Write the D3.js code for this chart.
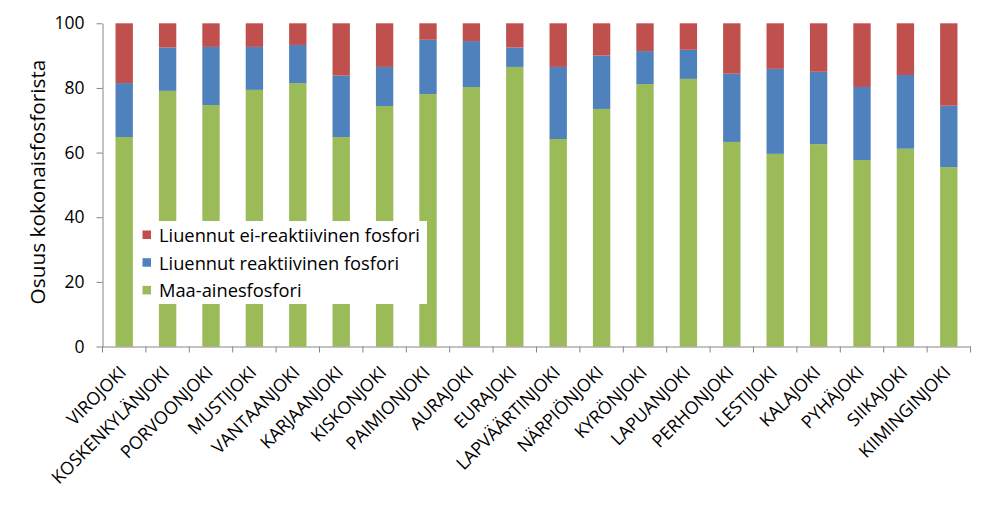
<!DOCTYPE html>
<html>
<head>
<meta charset="utf-8">
<script src="https://cdn.jsdelivr.net/npm/d3@7"></script>
<style>
  body { margin: 0; background: #fff; }
  text { font-family: "Open Sans", sans-serif; fill: #000; }
</style>
</head>
<body>
<div id="chart"></div>
<script>
// joet
const rivers = ["VIROJOKI", "KOSKENKYLÄNJOKI", "PORVOONJOKI", "MUSTIJOKI", "VANTAANJOKI",
  "KARJAANJOKI", "KISKONJOKI", "PAIMIONJOKI", "AURAJOKI", "EURAJOKI", "LAPVÄÄRTINJOKI",
  "NÄRPIÖNJOKI", "KYRÖNJOKI", "LAPUANJOKI", "PERHONJOKI", "LESTIJOKI", "KALAJOKI",
  "PYHÄJOKI", "SIIKAJOKI", "KIIMINGINJOKI"];

// osuudet (%)
const maaAines = [64.8, 79.1, 74.7, 79.4, 81.5, 64.8, 74.4, 78.1, 80.3, 86.5,
  64.2, 73.5, 81.2, 82.8, 63.3, 59.6, 62.6, 57.7, 61.2, 55.5];
const reaktiivinen = [16.7, 13.4, 18.0, 13.3, 11.8, 19.0, 12.1, 16.8, 14.2, 6.0,
  22.3, 16.5, 10.2, 9.0, 21.1, 26.3, 22.4, 22.6, 22.8, 19.0];
const eiReaktiivinen = [18.5, 7.5, 7.3, 7.3, 6.7, 16.2, 13.5, 5.1, 5.5, 7.5,
  13.5, 10.0, 8.6, 8.2, 15.6, 14.1, 15.0, 19.7, 16.0, 25.5];

const yTicks = [0, 20, 40, 60, 80, 100];

const seriesNames = ["Maa-ainesfosfori", "Liuennut reaktiivinen fosfori", "Liuennut ei-reaktiivinen fosfori"];
const colors = ["#9BBB59", "#4F81BD", "#C0504D"];

const W = 1002, H = 506;
const svg = d3.select("#chart").append("svg")
  .attr("width", W)
  .attr("height", H);

const x = d3.scaleBand()
  .domain(rivers)
  .range([102.5, 970.5])
  .padding(0);

const y = d3.scaleLinear()
  .domain([0, 100])
  .range([346.5, 23.3]);

// taulukko pinoamista varten
const table = rivers.map((r, i) => ({
  river: r,
  [seriesNames[0]]: maaAines[i],
  [seriesNames[1]]: reaktiivinen[i],
  [seriesNames[2]]: eiReaktiivinen[i]
}));

const stacked = d3.stack().keys(seriesNames)(table);

const barW = x.bandwidth() * 0.4;

svg.append("g")
  .selectAll("g")
  .data(stacked)
  .join("g")
    .attr("fill", (d, i) => colors[i])
  .selectAll("rect")
  .data(d => d)
  .join("rect")
    .attr("x", d => x(d.data.river) + (x.bandwidth() - barW) / 2)
    .attr("y", d => y(d[1]))
    .attr("width", barW)
    .attr("height", d => y(d[0]) - y(d[1]));

// y-akseli
const yAxis = svg.append("g")
  .attr("transform", `translate(${x.range()[0]},0)`)
  .call(d3.axisLeft(y).tickValues(yTicks).tickSize(6).tickSizeOuter(0).tickPadding(12));
yAxis.select(".domain").attr("stroke", "#868686");
yAxis.selectAll(".tick line").attr("stroke", "#868686");
yAxis.selectAll("text").style("font-size", "17.5px").attr("fill", "#000");

// x-akseli
const xAxis = svg.append("g")
  .attr("transform", `translate(0,${y(0)})`)
  .call(d3.axisBottom(x).tickSize(0).tickSizeOuter(0));
xAxis.select(".domain").attr("stroke", "#868686");
xAxis.selectAll("text")
  .style("font-size", "17.8px")
  .attr("fill", "#000")
  .attr("text-anchor", "end")
  .attr("x", 0)
  .attr("y", 0)
  .attr("dy", null)
  .attr("transform", "translate(3,27) rotate(-45)");

// väliviivat luokkien välissä
const boundaries = rivers.map(r => x(r)).concat([x.range()[1]]);
svg.append("g")
  .selectAll("line")
  .data(boundaries)
  .join("line")
    .attr("x1", d => d)
    .attr("x2", d => d)
    .attr("y1", y(0))
    .attr("y2", y(0) + 6)
    .attr("stroke", "#868686");

// y-akselin otsikko
svg.append("text")
  .attr("transform", `translate(44.5,182) rotate(-90)`)
  .attr("text-anchor", "middle")
  .style("font-size", "20.8px")
  .text("Osuus kokonaisfosforista");

// selite
const legend = svg.append("g");
legend.append("rect")
  .attr("x", 133)
  .attr("y", 221)
  .attr("width", 294)
  .attr("height", 83)
  .attr("fill", "#fff");

const legendOrder = [2, 1, 0];
legendOrder.forEach((s, k) => {
  const cy = 235.5 + k * 27.7;
  legend.append("rect")
    .attr("x", 142.5)
    .attr("y", cy - 5)
    .attr("width", 8.5)
    .attr("height", 8.5)
    .attr("fill", colors[s]);
  legend.append("text")
    .attr("x", 159)
    .attr("y", cy)
    .attr("dy", "0.357em")
    .style("font-size", "18.3px")
    .text(seriesNames[s]);
});
</script>
</body>
</html>
